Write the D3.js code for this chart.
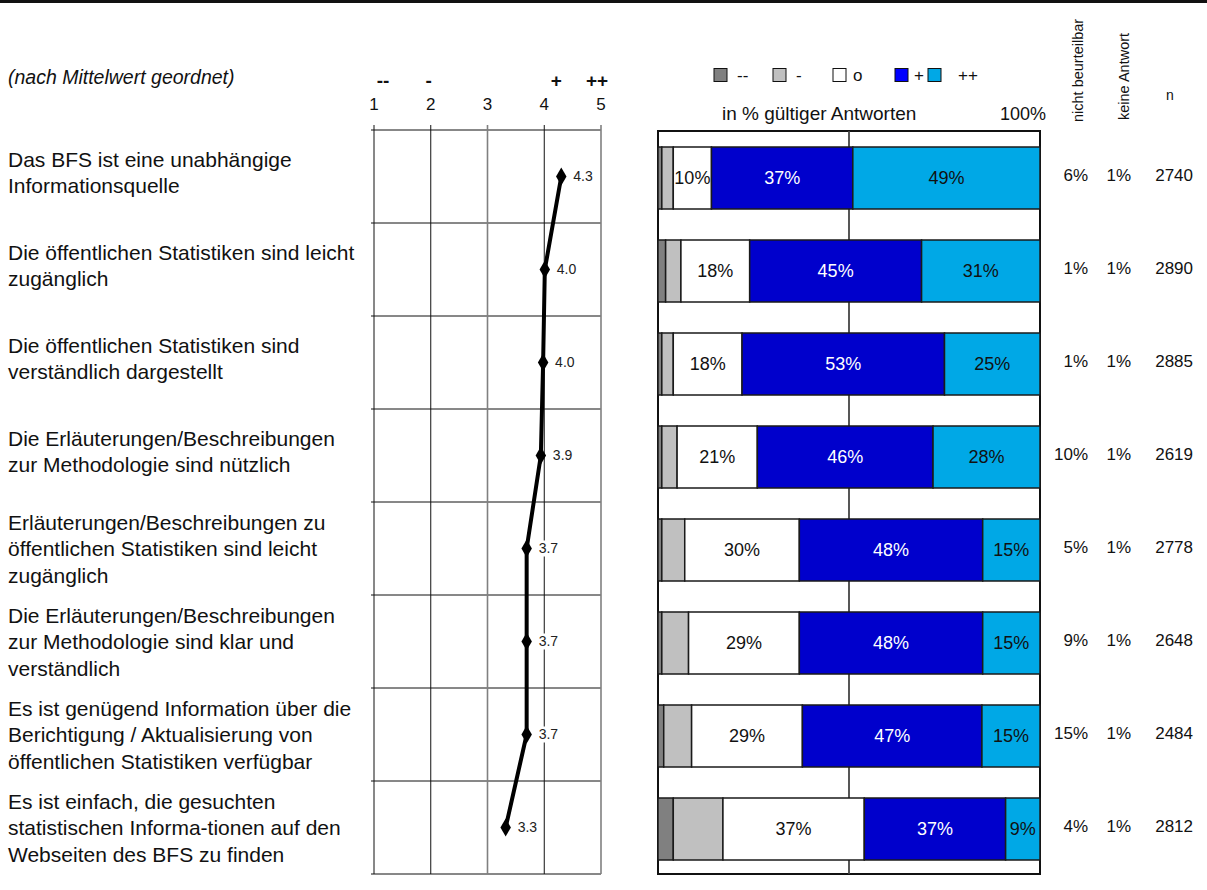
<!DOCTYPE html>
<html>
<head>
<meta charset="utf-8">
<script src="https://cdn.jsdelivr.net/npm/d3@7"></script>
<style>
  html, body { margin: 0; padding: 0; background: #fff; }
  svg { display: block; font-family: "Liberation Sans", Arial, sans-serif; }
</style>
</head>
<body>
<svg id="chart" width="1207" height="890"></svg>
<script>
// ---------- DATA ----------
const categories = [
  "Das BFS ist eine unabhängige\nInformationsquelle",
  "Die öffentlichen Statistiken sind leicht\nzugänglich",
  "Die öffentlichen Statistiken sind\nverständlich dargestellt",
  "Die Erläuterungen/Beschreibungen\nzur Methodologie sind nützlich",
  "Erläuterungen/Beschreibungen zu\nöffentlichen Statistiken sind leicht\nzugänglich",
  "Die Erläuterungen/Beschreibungen\nzur Methodologie sind klar und\nverständlich",
  "Es ist genügend Information über die\nBerichtigung / Aktualisierung von\nöffentlichen Statistiken verfügbar",
  "Es ist einfach, die gesuchten\nstatistischen Informa-tionen auf den\nWebseiten des BFS zu finden"
];
const meanValues = [4.30, 4.01, 3.98, 3.94, 3.69, 3.69, 3.69, 3.32];
const scaleTicks = [1, 2, 3, 4, 5];
const scaleSymbols = ["--", "-", "", "+", "++"];

const seriesKeys = ["--", "-", "o", "+", "++"];
const veryNegative = [1, 2, 1, 1, 1, 1, 1.5, 4];
const negative     = [3, 4, 3, 4, 6, 7, 7.3, 13];
const neutral      = [10, 18, 18, 21, 30, 29, 29, 37];
const positive     = [37, 45, 53, 46, 48, 48, 47, 37];
const veryPositive = [49, 31, 25, 28, 15, 15, 15.2, 9];

const notAssessable = ["6%", "1%", "1%", "10%", "5%", "9%", "15%", "4%"];
const noAnswer      = ["1%", "1%", "1%", "1%", "1%", "1%", "1%", "1%"];
const nValues       = [2740, 2890, 2885, 2619, 2778, 2648, 2484, 2812];

// ---------- STYLE ----------
const colors = { "--": "#808080", "-": "#c0c0c0", "o": "#ffffff", "+": "#0000cc", "++": "#00a8e6" };
const legendColors = { "--": "#808080", "-": "#c0c0c0", "o": "#ffffff", "+": "#0000ff", "++": "#00a8e6" };
const labelColors = { "o": "#111", "+": "#fff", "++": "#111" };

const svg = d3.select("#chart");

// top rule
svg.append("rect").attr("x", 0).attr("y", 0).attr("width", 1207).attr("height", 3).attr("fill", "#111");

// row scale
const yRow = d3.scaleBand().domain(d3.range(categories.length)).range([130, 874]).paddingInner(0).paddingOuter(0);
const rowH = yRow.bandwidth();

// ---------- LEFT LABELS ----------
svg.append("text").attr("x", 8).attr("y", 84)
  .attr("font-size", 19.5).attr("font-style", "italic").attr("fill", "#111")
  .text("(nach Mittelwert geordnet)");

const lineH = 26.5;
categories.forEach((c, i) => {
  const lines = c.split("\n");
  const cy = yRow(i) + rowH / 2 + (lines.length === 2 ? -4 : 0);
  const t = svg.append("text").attr("x", 8).attr("font-size", 21).attr("fill", "#111");
  lines.forEach((ln, k) => {
    t.append("tspan").attr("x", 8)
      .attr("y", cy + (k - (lines.length - 1) / 2) * lineH + 7.5)
      .text(ln);
  });
});

// ---------- MEAN PROFILE ----------
const xMean = d3.scaleLinear().domain([1, 5]).range([374, 601]);
const gM = svg.append("g");
const rowEdges = d3.range(categories.length + 1).map(i => i < categories.length ? yRow(i) : 874);
gM.selectAll("line.h").data(rowEdges).join("line")
  .attr("x1", 371).attr("x2", xMean(5))
  .attr("y1", d => d).attr("y2", d => d)
  .attr("stroke", "#111").attr("stroke-width", 1);
gM.selectAll("line.v").data(scaleTicks).join("line")
  .attr("x1", d => xMean(d)).attr("x2", d => xMean(d))
  .attr("y1", 125).attr("y2", 874)
  .attr("stroke", d => (d === 3 || d === 5) ? "#808080" : "#111")
  .attr("stroke-width", d => (d === 3 || d === 5) ? 1.6 : 1);
gM.selectAll("text.num").data(scaleTicks).join("text")
  .attr("x", d => xMean(d)).attr("y", 110)
  .attr("text-anchor", "middle").attr("font-size", 17).attr("fill", "#111")
  .text(d => d);
const symOffset = [9, -2, 0, 12, -4];
gM.selectAll("text.sym").data(scaleTicks).join("text")
  .attr("x", (d, i) => xMean(d) + symOffset[i]).attr("y", 87)
  .attr("text-anchor", "middle").attr("font-size", 19).attr("font-weight", "bold").attr("fill", "#111")
  .text((d, i) => scaleSymbols[i]);

const pts = meanValues.map((v, i) => [xMean(v), yRow(i) + rowH / 2]);
// label backgrounds (labels mask the grid)
gM.selectAll("rect.mvbg").data(pts).join("rect")
  .attr("x", d => d[0] + 10).attr("y", d => d[1] - 8)
  .attr("width", 24).attr("height", 16).attr("fill", "#fff");
gM.append("path")
  .attr("d", d3.line()(pts))
  .attr("fill", "none").attr("stroke", "#000").attr("stroke-width", 4).attr("stroke-linejoin", "round");
gM.selectAll("path.mk").data(pts).join("path")
  .attr("transform", d => `translate(${d[0]},${d[1]})`)
  .attr("d", d3.symbol().type(d3.symbolDiamond).size(95))
  .attr("fill", "#000");
gM.selectAll("text.mv").data(meanValues).join("text")
  .attr("x", (d, i) => pts[i][0] + 12).attr("y", (d, i) => pts[i][1])
  .attr("dy", "0.35em").attr("font-size", 14).attr("fill", "#222")
  .text(d => d.toFixed(1));

// ---------- STACKED BARS ----------
const xPct = d3.scaleLinear().domain([0, 100]).range([658, 1040]);
const gB = svg.append("g");
gB.append("rect").attr("x", xPct(0)).attr("y", 131).attr("width", xPct(100) - xPct(0)).attr("height", 874 - 131)
  .attr("fill", "#fff").attr("stroke", "#111").attr("stroke-width", 2);
gB.append("line").attr("x1", xPct(50)).attr("x2", xPct(50)).attr("y1", 131).attr("y2", 874)
  .attr("stroke", "#444").attr("stroke-width", 1.8);

const table = categories.map((c, i) => ({
  i, "--": veryNegative[i], "-": negative[i], "o": neutral[i], "+": positive[i], "++": veryPositive[i]
}));
const stacked = d3.stack().keys(seriesKeys)(table);
const barTop = 17, barH = 62;
stacked.forEach(layer => {
  const key = layer.key;
  const g = gB.append("g");
  g.selectAll("rect").data(layer).join("rect")
    .attr("x", d => xPct(d[0])).attr("width", d => xPct(d[1]) - xPct(d[0]))
    .attr("y", d => yRow(d.data.i) + barTop).attr("height", barH)
    .attr("fill", colors[key]).attr("stroke", "#1a1a1a").attr("stroke-width", 1.5);
  if (labelColors[key]) {
    g.selectAll("text").data(layer).join("text")
      .attr("x", d => (xPct(d[0]) + xPct(d[1])) / 2)
      .attr("y", d => yRow(d.data.i) + barTop + barH / 2)
      .attr("dy", "0.35em").attr("text-anchor", "middle")
      .attr("font-size", 18).attr("fill", labelColors[key])
      .text(d => Math.round(d.data[key]) + "%");
  }
});

// header of bar chart
svg.append("text").attr("x", 722).attr("y", 120).attr("font-size", 19).attr("fill", "#111").text("in % gültiger Antworten");
svg.append("text").attr("x", 1046).attr("y", 120).attr("text-anchor", "end").attr("font-size", 18).attr("fill", "#111").text("100%");

// legend
const legendX = [714, 773, 833, 895, 928];
const legendTextX = [737, 796, 853, 914, 958];
seriesKeys.forEach((k, i) => {
  svg.append("rect").attr("x", legendX[i]).attr("y", 68.5).attr("width", 13).attr("height", 13)
    .attr("fill", legendColors[k]).attr("stroke", "#111").attr("stroke-width", 1);
  svg.append("text").attr("x", legendTextX[i]).attr("y", 81).attr("font-size", 17).attr("fill", "#111").text(k);
});

// right columns header
svg.append("text").attr("transform", "translate(1083,122) rotate(-90)")
  .attr("font-size", 14.5).attr("fill", "#111").text("nicht beurteilbar");
svg.append("text").attr("transform", "translate(1129,120) rotate(-90)")
  .attr("font-size", 14.5).attr("fill", "#111").text("keine Antwort");
svg.append("text").attr("x", 1170).attr("y", 100).attr("text-anchor", "middle")
  .attr("font-size", 14).attr("fill", "#111").text("n");

// right columns
const cols = [
  { vals: notAssessable, x: 1088 },
  { vals: noAnswer, x: 1131 },
  { vals: nValues, x: 1193 }
];
cols.forEach(col => {
  svg.append("g").selectAll("text").data(col.vals).join("text")
    .attr("x", col.x).attr("y", (d, i) => yRow(i) + rowH / 2 - 1)
    .attr("dy", "0.35em").attr("text-anchor", "end")
    .attr("font-size", 17).attr("fill", "#111")
    .text(d => d);
});
</script>
</body>
</html>
